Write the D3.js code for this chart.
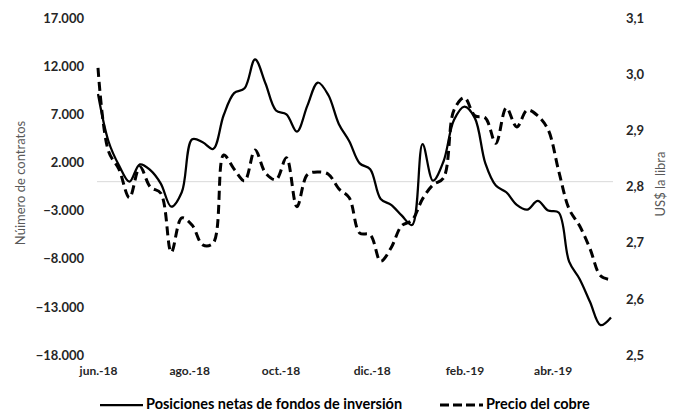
<!DOCTYPE html>
<html>
<head>
<meta charset="utf-8">
<script src="https://cdn.jsdelivr.net/npm/d3@7"></script>
<style>
  body { margin: 0; background: #fff; }
  svg { display: block; font-family: Lato, "Open Sans", sans-serif; }
</style>
</head>
<body>
<svg id="chart" width="680" height="413"></svg>
<script>
// Weekly dates (Fridays)
const weeks = [
  "2018-06-01", "2018-06-08", "2018-06-15", "2018-06-22", "2018-06-29",
  "2018-07-06", "2018-07-13", "2018-07-20", "2018-07-27",
  "2018-08-03", "2018-08-10", "2018-08-17", "2018-08-24", "2018-08-31",
  "2018-09-07", "2018-09-14", "2018-09-21", "2018-09-28",
  "2018-10-05", "2018-10-12", "2018-10-19", "2018-10-26",
  "2018-11-02", "2018-11-09", "2018-11-16", "2018-11-23", "2018-11-30",
  "2018-12-07", "2018-12-14", "2018-12-21", "2018-12-28",
  "2019-01-04", "2019-01-11", "2019-01-18", "2019-01-25",
  "2019-02-01", "2019-02-08", "2019-02-15", "2019-02-22",
  "2019-03-01", "2019-03-08", "2019-03-15", "2019-03-22", "2019-03-29",
  "2019-04-05", "2019-04-12", "2019-04-19", "2019-04-26",
  "2019-05-03", "2019-05-10"
];

// Net positions of investment funds (number of contracts)
const netPositions = [
  9100, 4200, 1700, 0, 1800, 1200, -200, -2600, -1100, 4400,
  4100, 3400, 6900, 9200, 9700, 12700, 10200, 7400, 7000, 5200,
  7900, 10300, 9000, 6000, 4200, 1900, 1300, -1800, -2400, -3500,
  -4500, 3900, 100, 2100, 6400, 7800, 6600, 1900, -400, -1100,
  -2400, -2900, -2000, -3000, -3200, -8300, -10100, -12500, -14900, -14100
];

// Copper price (US$ per pound)
const copperPrice = [
  3.011, 2.863, 2.831, 2.780, 2.835, 2.799, 2.788, 2.683, 2.744, 2.731,
  2.696, 2.699, 2.856, 2.831, 2.810, 2.865, 2.824, 2.812, 2.851, 2.764,
  2.821, 2.826, 2.822, 2.796, 2.780, 2.717, 2.714, 2.667, 2.691, 2.730,
  2.740, 2.778, 2.803, 2.815, 2.936, 2.958, 2.926, 2.922, 2.877, 2.940,
  2.906, 2.936, 2.926, 2.901, 2.828, 2.760, 2.730, 2.689, 2.641, 2.634
];

// Tick labels
const monthTicks = ["2018-06-01", "2018-08-01", "2018-10-01", "2018-12-01", "2019-02-01", "2019-04-01"];
const monthLabels = ["jun.-18", "ago.-18", "oct.-18", "dic.-18", "feb.-19", "abr.-19"];
const leftTicks = [17000, 12000, 7000, 2000, -3000, -8000, -13000, -18000];
const rightTicks = [3.1, 3.0, 2.9, 2.8, 2.7, 2.6, 2.5];

const seriesNames = ["Posiciones netas de fondos de inversión", "Precio del cobre"];

function drawChart() {
  const svg = d3.select("#chart");
  const parse = d3.timeParse("%Y-%m-%d");
  const dates = weeks.map(parse);

  // spanish number format: 17.000 and 3,1
  const locale = d3.formatLocale({ decimal: ",", thousands: ".", grouping: [3], currency: ["", ""] });
  const fmtLeft = locale.format(",.0f");
  const fmtRight = locale.format(".1f");

  const top = 18, bottom = 355;
  const x = d3.scaleTime()
    .domain([dates[0], dates[dates.length - 1]])
    .range([98, 611]);
  const yLeft = d3.scaleLinear().domain([-18000, 17000]).range([bottom, top]);
  const yRight = d3.scaleLinear().domain([2.5, 3.1]).range([bottom, top]);

  // zero line
  svg.append("line")
    .attr("x1", 97).attr("x2", 613)
    .attr("y1", yLeft(0)).attr("y2", yLeft(0))
    .attr("stroke", "#d9d9d9")
    .attr("stroke-width", 1);

  // left axis
  const gl = svg.append("g")
    .attr("transform", "translate(84,0)")
    .call(d3.axisLeft(yLeft).tickValues(leftTicks).tickFormat(fmtLeft).tickSize(0).tickPadding(0));
  gl.select(".domain").remove();
  gl.selectAll("text")
    .attr("font-family", "Lato, sans-serif")
    .attr("font-weight", "bold")
    .attr("font-size", "13px")
    .attr("fill", "#262626");

  // right axis
  const gr = svg.append("g")
    .attr("transform", "translate(626,0)")
    .call(d3.axisRight(yRight).tickValues(rightTicks).tickFormat(fmtRight).tickSize(0).tickPadding(0));
  gr.select(".domain").remove();
  gr.selectAll("text")
    .attr("font-family", "Lato, sans-serif")
    .attr("font-weight", "bold")
    .attr("font-size", "13px")
    .attr("fill", "#262626");

  // x axis (month labels)
  const gx = svg.append("g")
    .attr("transform", "translate(0,366)")
    .call(d3.axisBottom(x)
      .tickValues(monthTicks.map(parse))
      .tickFormat((d, i) => monthLabels[i])
      .tickSize(0).tickPadding(0));
  gx.select(".domain").remove();
  gx.selectAll("text")
    .attr("font-family", "Lato, sans-serif")
    .attr("font-weight", "bold")
    .attr("font-size", "12px")
    .attr("fill", "#262626");

  // axis titles
  svg.append("text")
    .attr("transform", "translate(22,183) rotate(-90)")
    .attr("text-anchor", "middle")
    .attr("dominant-baseline", "middle")
    .attr("font-size", "13px")
    .attr("fill", "#595959")
    .text("Núimero de contratos");

  svg.append("text")
    .attr("transform", "translate(662,184) rotate(-90)")
    .attr("text-anchor", "middle")
    .attr("dominant-baseline", "middle")
    .attr("font-size", "13px")
    .attr("fill", "#595959")
    .text("US$ la libra");

  // lines
  const lineLeft = d3.line()
    .x((d, i) => x(dates[i]))
    .y(d => yLeft(d))
    .curve(d3.curveCatmullRom);
  const lineRight = d3.line()
    .x((d, i) => x(dates[i]))
    .y(d => yRight(d))
    .curve(d3.curveCatmullRom);

  svg.append("path")
    .datum(copperPrice)
    .attr("d", lineRight)
    .attr("fill", "none")
    .attr("stroke", "#000")
    .attr("stroke-width", 3)
    .attr("stroke-dasharray", "9,5");

  svg.append("path")
    .datum(netPositions)
    .attr("d", lineLeft)
    .attr("fill", "none")
    .attr("stroke", "#000")
    .attr("stroke-width", 2.25);

  // legend
  const legend = [
    { x: 100, dash: null, width: 2.25 },
    { x: 440, dash: "9,4", width: 3 }
  ];
  legend.forEach((l, i) => {
    svg.append("line")
      .attr("x1", l.x).attr("x2", l.x + 43)
      .attr("y1", 405).attr("y2", 405)
      .attr("stroke", "#000")
      .attr("stroke-width", l.width)
      .attr("stroke-dasharray", l.dash);
    svg.append("text")
      .attr("x", l.x + 46)
      .attr("y", 405)
      .attr("dominant-baseline", "middle")
      .attr("font-weight", "bold")
      .attr("font-size", "14.5px")
      .attr("fill", "#000")
      .text(seriesNames[i]);
  });
}

drawChart();
</script>
</body>
</html>
